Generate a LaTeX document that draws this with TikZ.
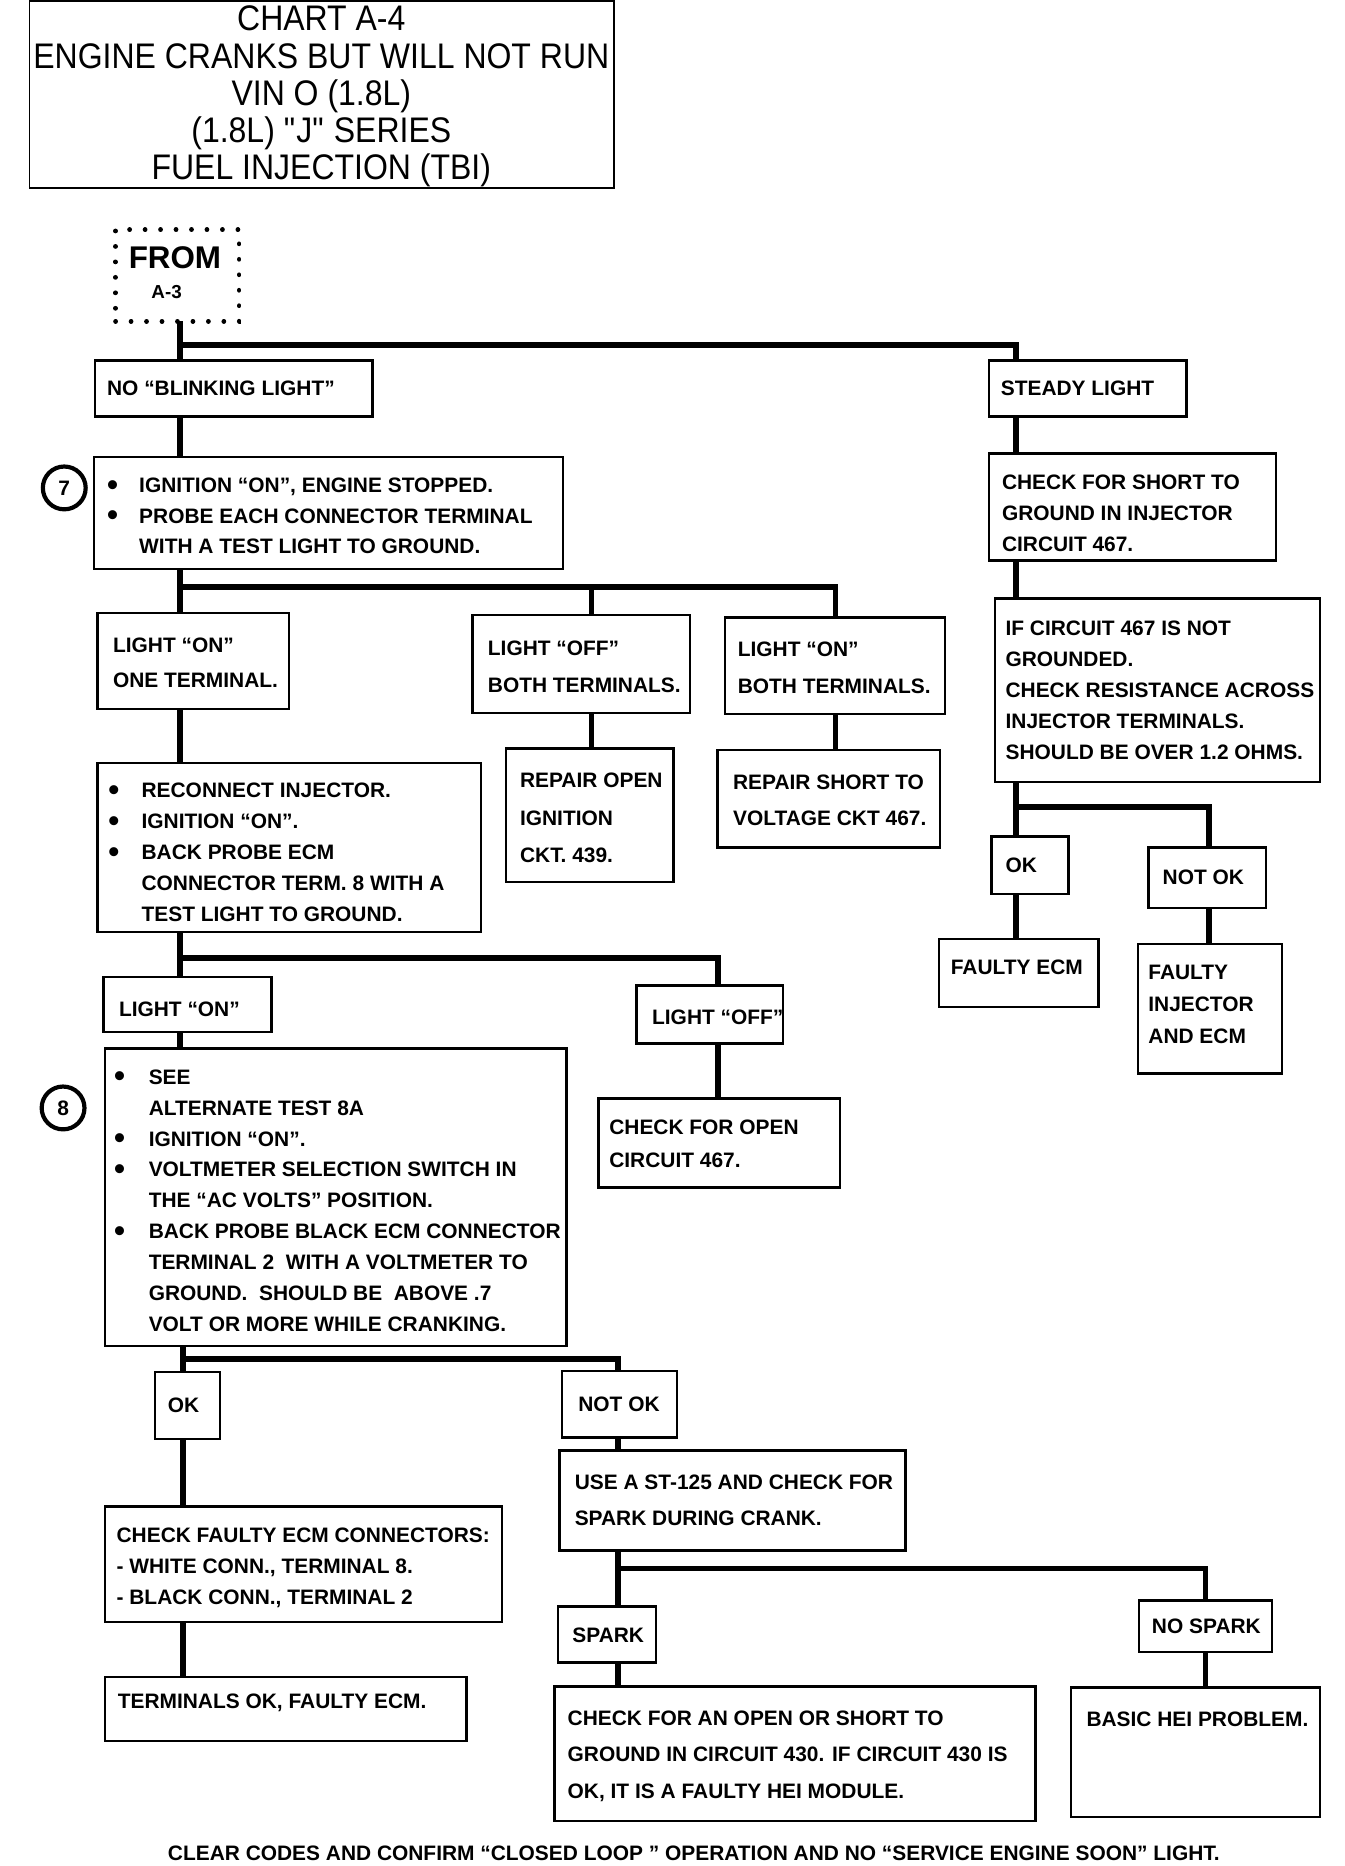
\documentclass[tikz,border=0pt]{standalone}
\usepackage{fontspec}
\setmainfont{Liberation Sans}
\newfontfamily\titlefont[FakeStretch=0.9]{Liberation Sans}
\usetikzlibrary{fit,calc}
\newcommand\TL[2]{\fontsize{10}{#1}\selectfont\begin{tabular}[t]{@{}l@{}}#2\end{tabular}}
\newcommand\BI[1]{\makebox[#1][l]{\raisebox{-1.3pt}{\fontsize{15}{15}\selectfont\textbullet}}}
\newcommand\IN[1]{\hspace*{#1}}
\newcommand\Q[1]{``#1''}
\begin{document}
\begin{tikzpicture}[x=0.02cm,y=-0.02cm,
  box/.style={draw,line width=1.15pt,inner sep=0pt,outer sep=0pt,fill=white,rectangle},
  tbox/.style={draw,line width=0.7pt,inner sep=0pt,outer sep=0pt,rectangle},
  dotbox/.style={draw,inner sep=0pt,outer sep=0pt,line width=0.075cm,line cap=round,dash pattern=on 0.005cm off 0.255cm},
  conn/.style={line width=2.8pt},
  txt/.style={anchor=base west,inner sep=0pt,outer sep=0pt,font=\bfseries},
  num/.style={draw,circle,line width=2pt,minimum size=0.72cm,inner sep=0pt,font=\bfseries\fontsize{10}{11}\selectfont}]
\useasboundingbox (0,0) rectangle (1130,1568);

% column coordinates
\coordinate (xA) at (151,0);
\coordinate (xB) at (154,0);
\coordinate (xR) at (854,0);
\coordinate (xLoff) at (497,0);
\coordinate (xLon) at (702,0);
\coordinate (xL2) at (603,0);
\coordinate (xN) at (519,0);
\coordinate (xNS) at (1013,0);
\coordinate (xNO) at (1016,0);
\coordinate (j0) at (151,290);
\coordinate (j1) at (151,493);
\coordinate (j2) at (151,805);
\coordinate (j3) at (154,1142);
\coordinate (j4) at (519,1318);
\coordinate (j5) at (854,678);

% title
\node[tbox,fit={(25,1)(516,158)}] (title) {};
\node[anchor=base,inner sep=0pt] (titlet) at (270,26)
  {\titlefont\fontsize{17}{17.8}\selectfont\begin{tabular}[t]{@{}c@{}}CHART A-4\\ENGINE CRANKS BUT WILL NOT RUN\\VIN O (1.8L)\\(1.8L) \textquotedbl J\textquotedbl{} SERIES\\FUEL INJECTION (TBI)\end{tabular}};

% from A-3
\node[dotbox,fit={(97,193)(201,270)}] (from) {};
\node[anchor=base,inner sep=0pt,font=\bfseries\fontsize{15}{18}\selectfont] (fromt) at (147,226) {FROM};
\node[anchor=base,inner sep=0pt,font=\bfseries\fontsize{9}{11}\selectfont] (fromn) at (140,251) {A-3};

% boxes
\node[box,fit={(80,303)(313,350)}] (nobl) {};
\node[box,fit={(831,303)(997,350)}] (steady) {};
\node[box,fit={(79,384)(473,478)}] (b7) {};
\node[box,fit={(82,515)(243,596)}] (lon1) {};
\node[box,fit={(397,517)(580,599)}] (loffb) {};
\node[box,fit={(609,519)(794,600)}] (lonb) {};
\node[box,fit={(425,629)(566,741)}] (ropen) {};
\node[box,fit={(603,630)(790,712)}] (rshort) {};
\node[box,fit={(82,641)(404,783)}] (recon) {};
\node[box,fit={(87,821)(228,867)}] (lon2) {};
\node[box,fit={(535,828)(658,877)}] (loff2) {};
\node[box,fit={(503,923)(706,998)}] (copen) {};
\node[box,fit={(88,881)(476,1131)}] (b8) {};
\node[box,fit={(130,1153)(185,1209)}] (ok1) {};
\node[box,fit={(472,1152)(569,1208)}] (nok1) {};
\node[box,fit={(88,1266)(422,1363)}] (cfe) {};
\node[box,fit={(88,1409)(392,1463)}] (tok) {};
\node[box,fit={(470,1219)(761,1303)}] (use) {};
\node[box,fit={(469,1350)(551,1397)}] (spark) {};
\node[box,fit={(466,1417)(870,1530)}] (cao) {};
\node[box,fit={(957,1345)(1069,1388)}] (nospark) {};
\node[box,fit={(900,1418)(1109,1527)}] (basic) {};
\node[box,fit={(831,381)(1072,471)}] (cshort) {};
\node[box,fit={(836,503)(1109,657)}] (ifc) {};
\node[box,fit={(833,703)(898,751)}] (ok2) {};
\node[box,fit={(965,712)(1064,763)}] (nok2) {};
\node[box,fit={(789,789)(923,846)}] (fecm) {};
\node[box,fit={(956,793)(1077,902)}] (finj) {};

% connectors
\draw[conn] (from.south -| xA) -- (nobl.north -| xA);
\draw[conn] (j0) -| (steady.north -| xR);
\draw[conn] (nobl.south -| xA) -- (b7.north -| xA);
\draw[conn] (b7.south -| xA) -- (lon1.north -| xA);
\draw[conn] (j1) -| (lonb.north -| xLon);
\draw[conn] (j1 -| xLoff) -- (loffb.north -| xLoff);
\draw[conn] (loffb.south -| xLoff) -- (ropen.north -| xLoff);
\draw[conn] (lonb.south -| xLon) -- (rshort.north -| xLon);
\draw[conn] (lon1.south -| xA) -- (recon.north -| xA);
\draw[conn] (recon.south -| xA) -- (lon2.north -| xA);
\draw[conn] (j2) -| (loff2.north -| xL2);
\draw[conn] (loff2.south -| xL2) -- (copen.north -| xL2);
\draw[conn] (lon2.south -| xA) -- (b8.north -| xA);
\draw[conn] (b8.south -| xB) -- (ok1.north -| xB);
\draw[conn] (j3) -| (nok1.north -| xN);
\draw[conn] (ok1.south -| xB) -- (cfe.north -| xB);
\draw[conn] (cfe.south -| xB) -- (tok.north -| xB);
\draw[conn] (nok1.south -| xN) -- (use.north -| xN);
\draw[conn] (use.south -| xN) -- (spark.north -| xN);
\draw[conn] (j4) -| (nospark.north -| xNS);
\draw[conn] (spark.south -| xN) -- (cao.north -| xN);
\draw[conn] (nospark.south -| xNS) -- (basic.north -| xNS);
\draw[conn] (steady.south -| xR) -- (cshort.north -| xR);
\draw[conn] (cshort.south -| xR) -- (ifc.north -| xR);
\draw[conn] (ifc.south -| xR) -- (ok2.north -| xR);
\draw[conn] (j5) -| (nok2.north -| xNO);
\draw[conn] (ok2.south -| xR) -- (fecm.north -| xR);
\draw[conn] (nok2.south -| xNO) -- (finj.north -| xNO);

% numbered circles
\node[num] (c7) at (54,410) {7};
\node[num] (c8) at (53,931) {8};

% texts
\node[txt] (noblt) at (90,332) {\TL{14.8}{NO \Q{BLINKING LIGHT}}};
\node[txt] (steadyt) at (841,332) {\TL{14.8}{STEADY LIGHT}};
\node[txt] (b7t) at (90,414) {\TL{14.5}{\BI{0.54cm}IGNITION \Q{ON}, ENGINE STOPPED.\\\BI{0.54cm}PROBE EACH CONNECTOR TERMINAL\\\IN{0.54cm}WITH A TEST LIGHT TO GROUND.}};
\node[txt] (lon1t) at (95,548) {\TL{17.1}{LIGHT \Q{ON}\\ONE TERMINAL.}};
\node[txt] (loffbt) at (410,551) {\TL{17.6}{LIGHT \Q{OFF}\\BOTH TERMINALS.}};
\node[txt] (lonbt) at (620,552) {\TL{17.6}{LIGHT \Q{ON}\\BOTH TERMINALS.}};
\node[txt] (ropent) at (437,662) {\TL{17.9}{REPAIR OPEN\\IGNITION\\CKT. 439.}};
\node[txt] (rshortt) at (616,663) {\TL{17.6}{REPAIR SHORT TO\\VOLTAGE CKT 467.}};
\node[txt] (recont) at (91,670) {\TL{14.9}{\BI{0.56cm}RECONNECT INJECTOR.\\\BI{0.56cm}IGNITION \Q{ON}.\\\BI{0.56cm}BACK PROBE ECM\\\IN{0.56cm}CONNECTOR TERM. 8 WITH A\\\IN{0.56cm}TEST LIGHT TO GROUND.}};
\node[txt] (lon2t) at (100,854) {\TL{14.8}{LIGHT \Q{ON}}};
\node[txt] (loff2t) at (548,861) {\TL{14.8}{LIGHT \Q{OFF}}};
\node[txt] (copent) at (512,953) {\TL{15.9}{CHECK FOR OPEN\\CIRCUIT 467.}};
\node[txt] (b8t) at (96,911) {\TL{14.8}{\BI{0.58cm}SEE\\\IN{0.58cm}ALTERNATE TEST 8A\\\BI{0.58cm}IGNITION \Q{ON}.\\\BI{0.58cm}VOLTMETER SELECTION SWITCH IN\\\IN{0.58cm}THE \Q{AC VOLTS} POSITION.\\\BI{0.58cm}BACK PROBE BLACK ECM CONNECTOR\\\IN{0.58cm}TERMINAL 2 \ WITH A VOLTMETER TO\\\IN{0.58cm}GROUND. \ SHOULD BE \ ABOVE .7\\\IN{0.58cm}VOLT OR MORE WHILE CRANKING.}};
\node[txt] (ok1t) at (141,1187) {\TL{14.8}{OK}};
\node[txt] (nok1t) at (486,1186) {\TL{14.8}{NOT OK}};
\node[txt] (cfet) at (98,1296) {\TL{14.8}{CHECK FAULTY ECM CONNECTORS:\\- WHITE CONN., TERMINAL 8.\\- BLACK CONN., TERMINAL 2}};
\node[txt] (tokt) at (99,1436) {\TL{14.8}{TERMINALS OK, FAULTY ECM.}};
\node[txt] (uset) at (483,1252) {\TL{17.1}{USE A ST-125 AND CHECK FOR\\SPARK DURING CRANK.}};
\node[txt] (sparkt) at (481,1380) {\TL{14.8}{SPARK}};
\node[txt] (caot) at (477,1450) {\TL{17.35}{CHECK FOR AN OPEN OR SHORT TO\\GROUND IN CIRCUIT 430. IF CIRCUIT 430 IS\\OK, IT IS A FAULTY HEI MODULE.}};
\node[txt] (nosparkt) at (968,1373) {\TL{14.8}{NO SPARK}};
\node[txt] (basict) at (913,1451) {\TL{14.8}{BASIC HEI PROBLEM.}};
\node[txt] (cshortt) at (842,411) {\TL{14.8}{CHECK FOR SHORT TO\\GROUND IN INJECTOR\\CIRCUIT 467.}};
\node[txt] (ifct) at (845,534) {\TL{14.8}{IF CIRCUIT 467 IS NOT\\GROUNDED.\\CHECK RESISTANCE ACROSS\\INJECTOR TERMINALS.\\SHOULD BE OVER 1.2 OHMS.}};
\node[txt] (ok2t) at (845,733) {\TL{14.8}{OK}};
\node[txt] (nok2t) at (977,743) {\TL{14.8}{NOT OK}};
\node[txt] (fecmt) at (799,819) {\TL{14.8}{FAULTY ECM}};
\node[txt] (finjt) at (965,823) {\TL{15.4}{FAULTY\\INJECTOR\\AND ECM}};

% footer
\node[anchor=base,inner sep=0pt,font=\bfseries\fontsize{10}{12}\selectfont] (footer) at (583,1563)
  {CLEAR CODES AND CONFIRM \Q{CLOSED LOOP } OPERATION AND NO \Q{SERVICE ENGINE SOON} LIGHT.};
\end{tikzpicture}
\end{document}
